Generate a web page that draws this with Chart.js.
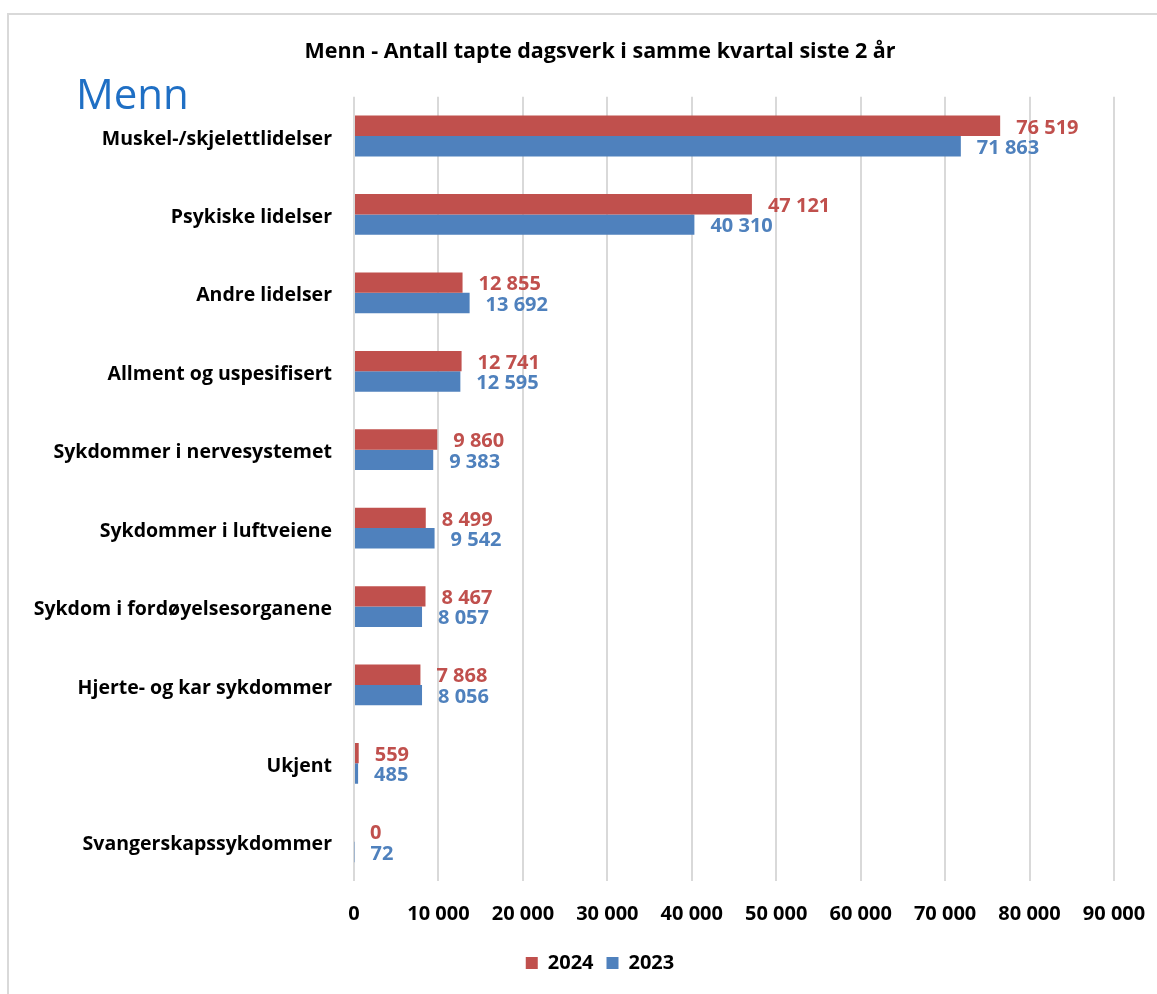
<!DOCTYPE html>
<html lang="no">
  <head>
    <meta charset="UTF-8" />
    <title>Menn - tapte dagsverk</title>
    <script src="https://cdn.jsdelivr.net/npm/chart.js"></script>
    <style>
      body {
        margin: 0;
        background-color: #ffffff;
        width: 1157px;
        height: 994px;
        overflow: hidden;
        position: relative;
      }
      #frame {
        position: absolute;
        left: 7px;
        top: 13px;
        right: -10px;
        bottom: -10px;
        border-top: 2px solid #d9d9d9;
        border-left: 2px solid #d9d9d9;
      }
      #tag {
        position: absolute;
        left: 76px;
        top: 64px;
        font-family: "Open Sans", "Lato", sans-serif;
        font-size: 42px;
        color: #1f6fc4;
      }
      canvas {
        position: absolute;
        left: 0;
        top: 0;
      }
    </style>
  </head>
  <body>
    <div id="frame"></div>
    <canvas id="dagsverkChart" width="1157" height="994"></canvas>
    <div id="tag">Menn</div>
    <script>
      const categories = [
        "Muskel-/skjelettlidelser",
        "Psykiske lidelser",
        "Andre lidelser",
        "Allment og uspesifisert",
        "Sykdommer i nervesystemet",
        "Sykdommer i luftveiene",
        "Sykdom i fordøyelsesorganene",
        "Hjerte- og kar sykdommer",
        "Ukjent",
        "Svangerskapssykdommer",
      ];
      const values2024 = [76519, 47121, 12855, 12741, 9860, 8499, 8467, 7868, 559, 0];
      const values2023 = [71863, 40310, 13692, 12595, 9383, 9542, 8057, 8056, 485, 72];
      const seriesNames = ["2024", "2023"];
      const tickValues = [0, 10000, 20000, 30000, 40000, 50000, 60000, 70000, 80000, 90000];

      const fontFamily = "'Open Sans', 'Lato', sans-serif";

      // thousands separated by a space, as in the original
      function fmt(n) {
        return String(n).replace(/\B(?=(\d{3})+(?!\d))/g, " ");
      }

      // draws the value next to the end of every bar
      const valueLabels = {
        id: "valueLabels",
        afterDatasetsDraw(chart) {
          const ctx = chart.ctx;
          ctx.save();
          ctx.font = "bold 20px " + fontFamily;
          ctx.textAlign = "left";
          ctx.textBaseline = "middle";
          chart.data.datasets.forEach((ds, i) => {
            const meta = chart.getDatasetMeta(i);
            ctx.fillStyle = ds.backgroundColor;
            meta.data.forEach((bar, j) => {
              ctx.fillText(fmt(ds.data[j]), bar.x + 16, bar.y + 2);
            });
          });
          ctx.restore();
        },
      };

      // title and legend are centred on x 86..1114 like the original,
      // while the y axis keeps the full left margin for its long labels
      const centreBoxes = {
        id: "centreBoxes",
        afterLayout(chart) {
          if (chart.titleBlock) chart.titleBlock.left = 86;
          if (chart.legend) chart.legend.left = 86;
        },
      };

      new Chart(document.getElementById("dagsverkChart").getContext("2d"), {
        type: "bar",
        data: {
          labels: categories,
          datasets: [
            {
              label: seriesNames[0],
              data: values2024,
              backgroundColor: "#c0504d",
              categoryPercentage: 0.52,
              barPercentage: 1.0,
            },
            {
              label: seriesNames[1],
              data: values2023,
              backgroundColor: "#4f81bd",
              categoryPercentage: 0.52,
              barPercentage: 1.0,
            },
          ],
        },
        options: {
          indexAxis: "y",
          responsive: false,
          animation: false,
          layout: {
            padding: { left: 0, right: 43, top: 29, bottom: 11 },
          },
          plugins: {
            title: {
              display: true,
              text: "Menn - Antall tapte dagsverk i samme kvartal siste 2 år",
              color: "#000000",
              font: { family: fontFamily, size: 21.5, weight: "bold" },
              padding: { top: 10, bottom: 32 },
            },
            legend: {
              position: "bottom",
              labels: {
                color: "#000000",
                boxWidth: 12,
                boxHeight: 12,
                padding: 13,
                font: { family: fontFamily, size: 20, weight: "bold" },
              },
            },
            tooltip: { enabled: false },
          },
          scales: {
            x: {
              min: 0,
              max: 90000,
              afterBuildTicks: (scale) => {
                scale.ticks = tickValues.map((v) => ({ value: v }));
              },
              afterFit: (scale) => {
                scale.height += 4;
              },
              grid: {
                color: "#d9d9d9",
                lineWidth: 2,
                drawTicks: true,
                tickLength: 11,
                tickColor: "rgba(0,0,0,0)",
              },
              border: { display: false },
              ticks: {
                color: "#000000",
                padding: 10,
                maxRotation: 0,
                font: { family: fontFamily, size: 20, weight: "bold" },
                callback: (v) => fmt(v),
              },
            },
            y: {
              afterFit: (scale) => {
                scale.width = 354;
              },
              grid: { display: false, drawTicks: false },
              border: { display: false },
              ticks: {
                color: "#000000",
                padding: 22,
                labelOffset: 3,
                font: { family: fontFamily, size: 19.5, weight: "bold" },
              },
            },
          },
        },
        plugins: [valueLabels, centreBoxes],
      });
    </script>
  </body>
</html>
